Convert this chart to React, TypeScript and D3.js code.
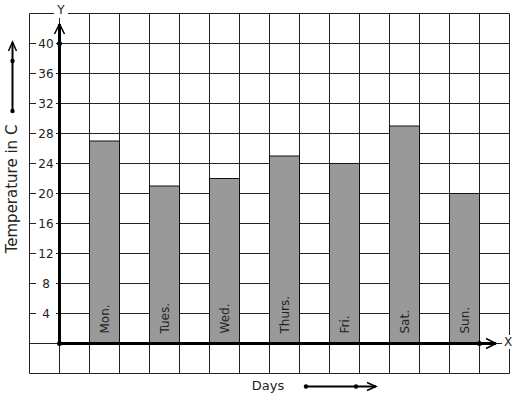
import React from "react";
import * as d3 from "d3";

const days = ["Mon.", "Tues.", "Wed.", "Thurs.", "Fri.", "Sat.", "Sun."];
const temps = [27, 21, 22, 25, 24, 29, 20];
const yTicks = [4, 8, 12, 16, 20, 24, 28, 32, 36, 40];
// grid column index (from origin column) of each bar
const barCols = [1, 3, 5, 7, 9, 11, 13];

const W = 517;
const H = 399;
const FONT = "DejaVu Sans, sans-serif";

export default function App() {
  const x0 = 59.5;
  const cell = 30;
  const y = d3.scaleLinear().domain([0, 40]).range([343.5, 43.5]);
  const col = (i: number) => x0 + i * cell;
  const gridXs = d3.range(-1, 16).map(col);
  const top = 13.5;
  const bottom = 373.5;
  const left = col(-1);
  const right = col(15);
  const stroke = "#222";

  return (
    <svg
      width={W}
      height={H}
      style={{ position: "absolute", left: 0, top: 0, background: "#fff" }}
      fontFamily={FONT}
    >
      <rect x={0} y={0} width={W} height={H} fill="#fff" />
      {/* grid */}
      {gridXs.map((gx, i) => (
        <line key={"gx" + i} x1={gx} x2={gx} y1={top} y2={bottom} stroke={stroke} strokeWidth={1} />
      ))}
      {d3.range(0, 13).map((k) => {
        const gy = top + k * cell;
        return <line key={"gy" + k} x1={left} x2={right} y1={gy} y2={gy} stroke={stroke} strokeWidth={1} />;
      })}
      {/* bars */}
      {temps.map((t, i) => (
        <rect
          key={"b" + i}
          x={col(barCols[i])}
          y={y(t)}
          width={cell}
          height={y(0) - y(t)}
          fill="#999"
          stroke="#111"
          strokeWidth={1}
        />
      ))}
      {temps.map((t, i) => (
        <text
          key={"bl" + i}
          transform={`translate(${col(barCols[i]) + cell / 2 + 4.5},${y(0) - 10}) rotate(-90)`}
          fontSize={12}
          fill="#222"
        >
          {days[i]}
        </text>
      ))}
      {/* y tick labels */}
      {yTicks.map((t) => (
        <g key={"yt" + t}>
          <rect x={36} y={y(t) - 7} width={20} height={14} fill="#fff" />
          <text x={46} y={y(t) + 4.5} fontSize={12} textAnchor="middle" fill="#222">
            {t}
          </text>
        </g>
      ))}
      {/* axes */}
      <line x1={x0} x2={x0} y1={y(0)} y2={24} stroke="#000" strokeWidth={3} />
      <path d={`M${x0 - 5},34 L${x0},24 L${x0 + 5},34`} fill="none" stroke="#000" strokeWidth={1.5} />
      <line x1={x0} x2={496} y1={y(0)} y2={y(0)} stroke="#000" strokeWidth={3} />
      <path d={`M486,${y(0) - 5} L496,${y(0)} L486,${y(0) + 5}`} fill="none" stroke="#000" strokeWidth={1.5} />
      <circle cx={x0} cy={y(0)} r={2.5} fill="#000" />
      <circle cx={x0} cy={y(40)} r={2.5} fill="#000" />
      <circle cx={col(14)} cy={y(0)} r={2.5} fill="#000" />
      {/* axis letters */}
      <rect x={54} y={4} width={14} height={14} fill="#fff" />
      <text x={61} y={14} fontSize={12} textAnchor="middle" fill="#222">Y</text>
      <rect x={502} y={335} width={14} height={14} fill="#fff" />
      <text x={508} y={346} fontSize={12} textAnchor="middle" fill="#222">X</text>
      {/* y title */}
      <text
        transform={`translate(17,189) rotate(-90)`}
        fontSize={15}
        textAnchor="middle"
        fill="#222"
      >
        Temperature in C
      </text>
      <line x1={12.5} x2={12.5} y1={111} y2={42} stroke="#000" strokeWidth={2} />
      <path d="M8.5,51 L12.5,42 L16.5,51" fill="none" stroke="#000" strokeWidth={1.5} />
      <circle cx={12.5} cy={61} r={2.2} fill="#000" />
      <circle cx={12.5} cy={111} r={2.2} fill="#000" />
      {/* x title */}
      <text x={268} y={390} fontSize={13} textAnchor="middle" fill="#222">Days</text>
      <line x1={306} x2={376} y1={386.5} y2={386.5} stroke="#000" strokeWidth={2} />
      <path d="M367,382.5 L376,386.5 L367,390.5" fill="none" stroke="#000" strokeWidth={1.5} />
      <circle cx={306} cy={386.5} r={2.2} fill="#000" />
      <circle cx={356} cy={386.5} r={2.2} fill="#000" />
    </svg>
  );
}
